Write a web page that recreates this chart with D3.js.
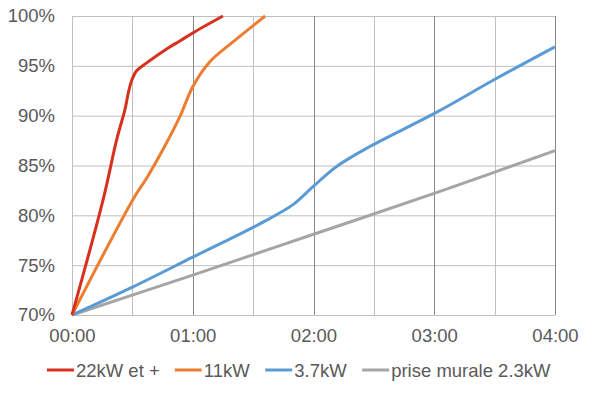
<!DOCTYPE html>
<html>
<head>
<meta charset="utf-8">
<script src="https://cdn.jsdelivr.net/npm/d3@7"></script>
<style>
  body { margin: 0; background: #fff; }
  svg { display: block; font-family: "Liberation Sans", Arial, sans-serif; }
  .tick text { fill: #595959; font-size: 18.5px; }
  .domain { display: none; }
</style>
</head>
<body>
<svg width="594" height="393"></svg>
<script>
// time in minutes since start, charge level in %
const names = ["22kW et +", "11kW", "3.7kW", "prise murale 2.3kW"]
const colors = ["#d7301c", "#ed7d31", "#5b9bd5", "#a5a5a5"]

const fast22 = [[0, 70], [15.5, 81.6], [22.2, 87.6], [26.3, 90.6], [28, 92.3], [29.6, 93.5],
  [32.1, 94.5], [37.1, 95.3], [47, 96.7], [53.6, 97.5], [60, 98.3], [75, 100]]
const ac11 = [[0, 70], [30.3, 81.6], [37.3, 83.8], [45.2, 86.6], [53.6, 89.9],
  [60, 92.9], [68.5, 95.4], [80, 97.4], [96, 100]]
const ac37 = [[0, 70], [30, 72.8], [60, 75.8], [90, 78.8], [98.4, 79.7], [110, 81.1], [119.9, 82.9],
  [131.5, 84.9], [148, 86.9], [180.8, 90.3], [210.6, 93.7], [240, 96.9]]
const wall23 = [[0, 70], [60, 74], [120, 78.1], [180, 82.2], [240, 86.5]]
const series = [fast22, ac11, ac37, wall23]

const xTicks = [0, 60, 120, 180, 240]
const xGrid = [30, 60, 90, 120, 150, 180, 210, 240]
const yTicks = [70, 75, 80, 85, 90, 95, 100]

const svg = d3.select("svg")

const x = d3.scaleLinear().domain([0, 240]).range([72, 555])
const y = d3.scaleLinear().domain([70, 100]).range([315, 16])

// horizontal grid
svg.append("g")
  .selectAll("line")
  .data(yTicks)
  .join("line")
  .attr("x1", x(0)).attr("x2", x(240))
  .attr("y1", d => y(d) + 0.5).attr("y2", d => y(d) + 0.5)
  .attr("stroke", "#bfbfbf")

// vertical grid, full hours are darker
svg.append("g")
  .selectAll("line")
  .data(xGrid)
  .join("line")
  .attr("x1", d => Math.round(x(d)) + 0.5).attr("x2", d => Math.round(x(d)) + 0.5)
  .attr("y1", y(100)).attr("y2", y(70))
  .attr("stroke", d => d % 60 === 0 ? "#878787" : "#bfbfbf")

// left edge
svg.append("line")
  .attr("x1", x(0) + 0.5).attr("x2", x(0) + 0.5)
  .attr("y1", y(100)).attr("y2", y(70))
  .attr("stroke", "#bfbfbf")

const fmtTime = m => String(Math.floor(m / 60)).padStart(2, "0") + ":" + String(m % 60).padStart(2, "0")

svg.append("g")
  .attr("transform", `translate(0,${y(70)})`)
  .call(d3.axisBottom(x).tickValues(xTicks).tickSize(0).tickPadding(14).tickFormat(fmtTime))

svg.append("g")
  .attr("transform", `translate(${x(0)},0)`)
  .call(d3.axisLeft(y).tickValues(yTicks).tickSize(0).tickPadding(17).tickFormat(d => d + "%"))

svg.selectAll(".tick text").attr("font-family", null).attr("font-size", null)

const line = d3.line()
  .x(d => x(d[0]))
  .y(d => y(d[1]))
  .curve(d3.curveCatmullRom.alpha(0.5))

// draw the slow ones first so red sits on top
svg.append("g")
  .selectAll("path")
  .data(series.map((s, i) => ({ s, i })).reverse())
  .join("path")
  .attr("d", d => line(d.s))
  .attr("fill", "none")
  .attr("stroke", d => colors[d.i])
  .attr("stroke-width", 3)
  .attr("stroke-linejoin", "round")

// legend
const legend = svg.append("g")
const items = legend.selectAll("g")
  .data(names)
  .join("g")

items.append("line")
  .attr("x1", 0).attr("x2", 27)
  .attr("y1", 0).attr("y2", 0)
  .attr("stroke", (d, i) => colors[i])
  .attr("stroke-width", 3)

items.append("text")
  .attr("x", 29)
  .attr("y", 6.5)
  .attr("fill", "#595959")
  .attr("font-size", 18.5)
  .text(d => d)

let pos = 0
items.each(function () {
  const w = this.getBBox().width
  d3.select(this).attr("transform", `translate(${pos},0)`)
  pos += w + 15
})
const total = pos - 15
legend.attr("transform", `translate(${299 - total / 2},370)`)
</script>
</body>
</html>
